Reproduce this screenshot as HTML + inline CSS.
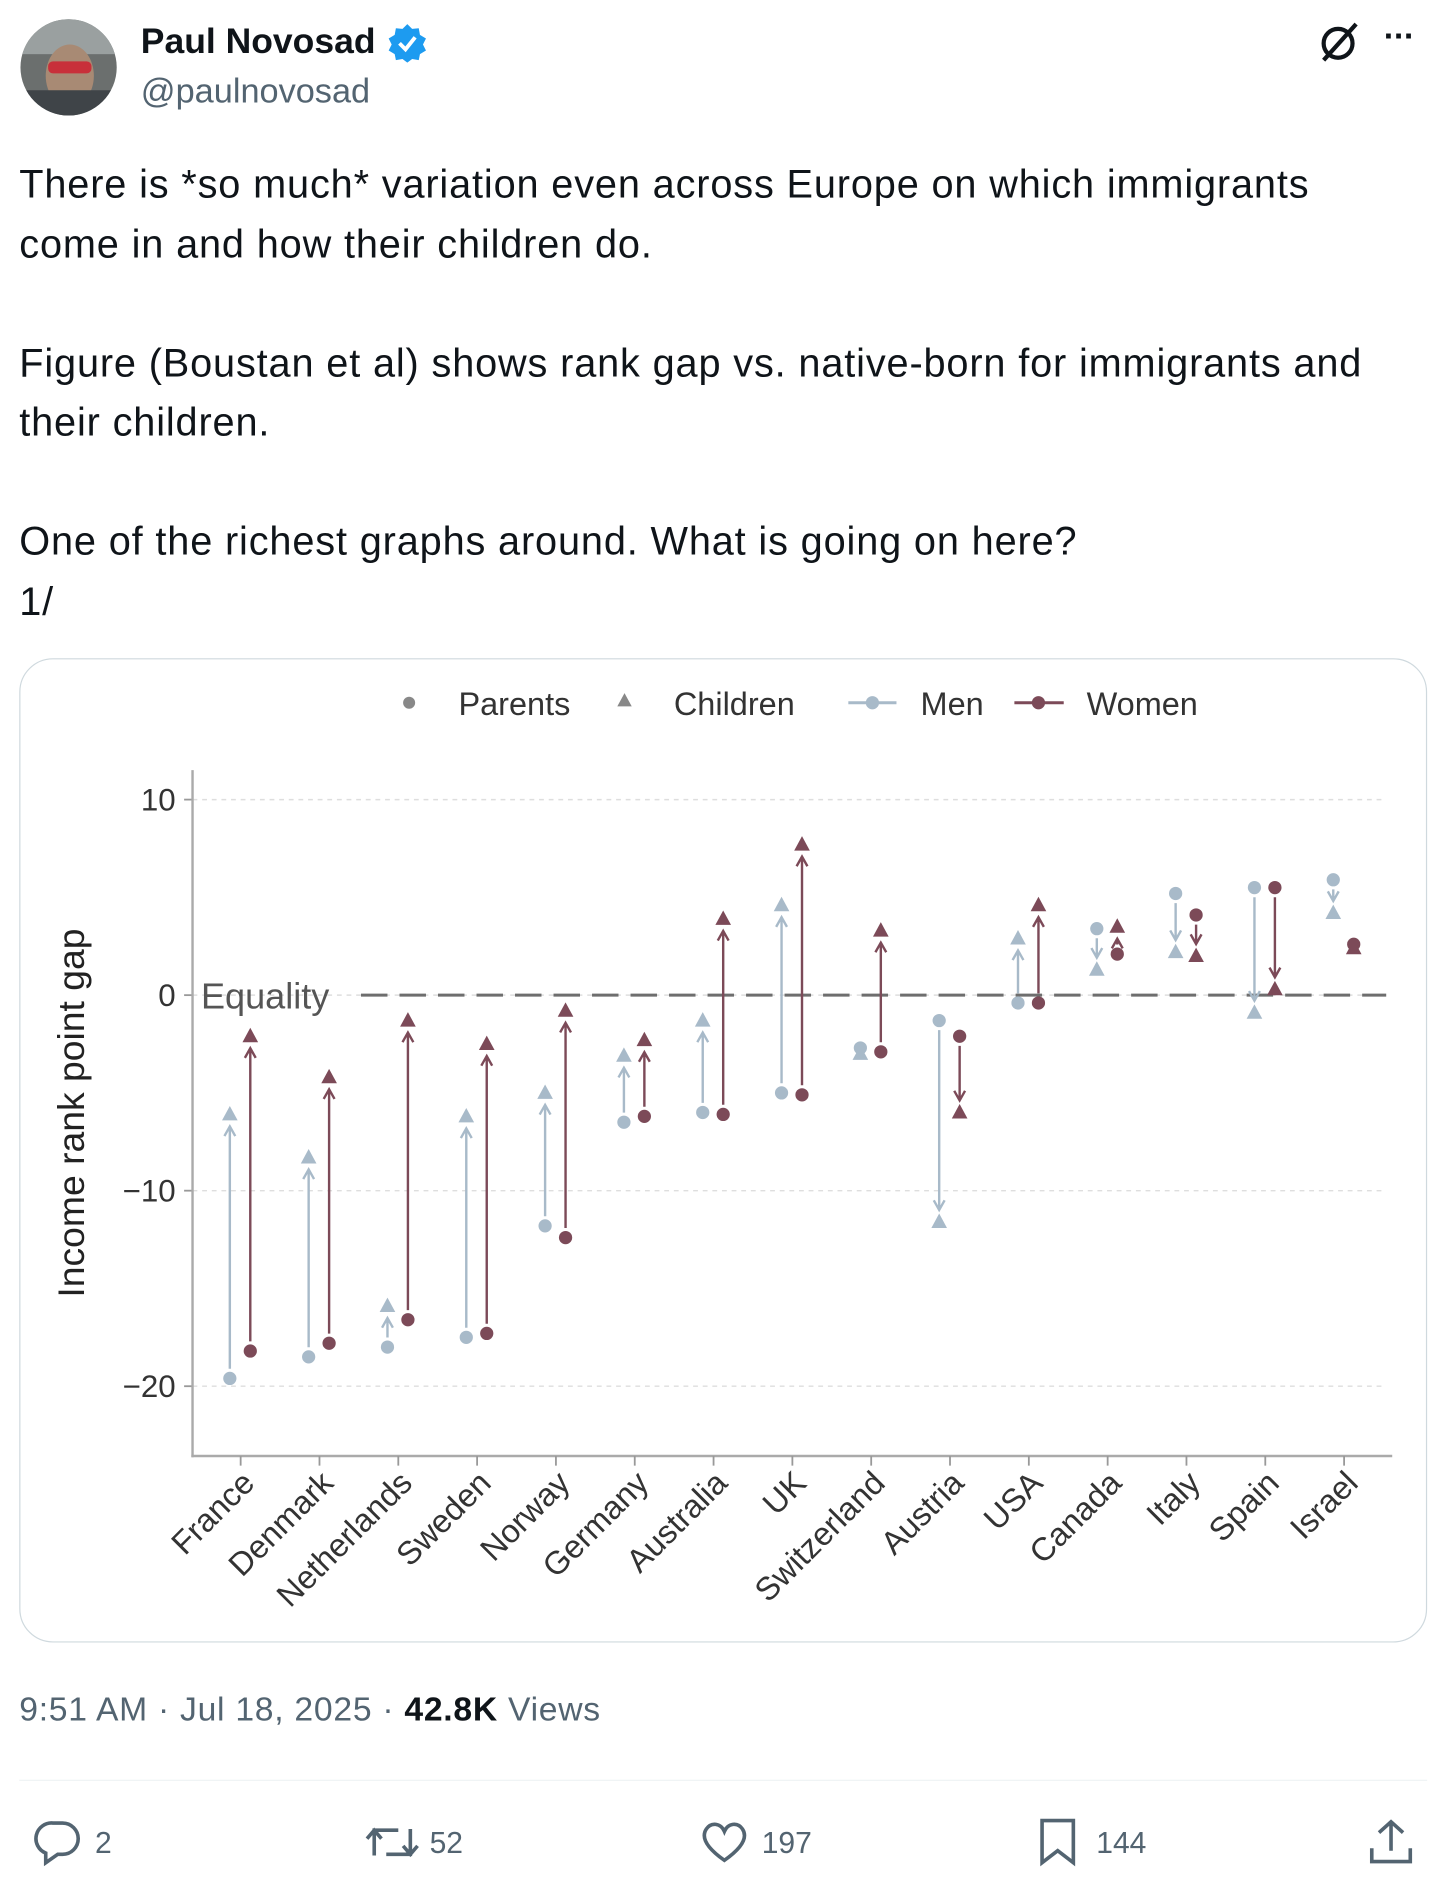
<!DOCTYPE html>
<html><head><meta charset="utf-8">
<style>
html,body{margin:0;padding:0;background:#fff;}
body{width:1456px;height:1880px;overflow:hidden;}
#wrap{position:absolute;left:0;top:0;width:1210px;height:1562px;transform:scale(1.20331);transform-origin:0 0;font-family:"Liberation Sans",sans-serif;color:#0f1419;}
.abs{position:absolute;}
.body-text{left:16px;top:128px;font-size:33px;line-height:49.5px;width:1190px;letter-spacing:0.7px;white-space:nowrap;}
.meta{left:16px;top:1405px;font-size:28px;color:#536471;letter-spacing:0.6px;}
.act{font-size:25px;color:#536471;}
</style></head><body>
<div id="wrap">
  <svg class="abs" style="left:16px;top:15px" width="82" height="82">
    <defs><clipPath id="cc"><circle cx="41" cy="41" r="40"/></clipPath></defs>
    <g clip-path="url(#cc)">
      <rect width="82" height="82" fill="#6b6f6e"/>
      <rect x="0" y="0" width="82" height="30" fill="#9aa0a0"/>
      <ellipse cx="42" cy="48" rx="20" ry="26" fill="#a88a74"/>
      <rect x="24" y="36" width="36" height="10" rx="4" fill="#c8303a"/>
      <rect x="0" y="60" width="82" height="22" fill="#3f4448"/>
    </g>
  </svg>
  <div class="abs" style="left:117px;top:18px;font-size:29.5px;font-weight:bold;">Paul Novosad</div>
  <svg class="abs" style="left:322px;top:19px" width="33" height="33">
    <path d="M16.5 1 L20.5 5 L26 4.5 L27 10 L32 13 L29.5 18 L32 23 L27 26 L26 31 L20.5 30 L16.5 33 L12.5 30 L7 31 L6 26 L1 23 L3.5 18 L1 13 L6 10 L7 4.5 L12.5 5 Z" fill="#1d9bf0"/>
    <path d="M10 17 L15 22 L23 12" stroke="#fff" stroke-width="3.2" fill="none"/>
  </svg>
  <div class="abs" style="left:117px;top:60px;font-size:28.5px;color:#536471;">@paulnovosad</div>
  <svg class="abs" style="left:1094px;top:16px" width="38" height="38">
    <circle cx="18" cy="20" r="12" fill="none" stroke="#0f1419" stroke-width="3.5"/>
    <line x1="6" y1="34" x2="33" y2="4" stroke="#0f1419" stroke-width="3.5"/>
  </svg>
  <div class="abs" style="left:1150px;top:14px;font-size:28px;font-weight:bold;letter-spacing:-1px">···</div>

  <div class="abs body-text">There is *so much* variation even across Europe on which immigrants<br>come in and how their children do.<br><br>Figure (Boustan et al) shows rank gap vs. native-born for immigrants and<br>their children.<br><br>One of the richest graphs around. What is going on here?<br>1/</div>

  <div class="abs" style="left:16px;top:547px;width:1168px;height:816px;border:1px solid #cfd9de;border-radius:28px;"></div>
  <svg id="chart" class="abs" style="left:0;top:0" width="1210" height="1562"></svg>

  <div class="abs meta">9:51 AM · Jul 18, 2025 · <b style="color:#0f1419">42.8K</b> Views</div>
  <div class="abs" style="left:16px;top:1479px;width:1170px;height:1px;background:#eff3f4"></div>

  <svg class="abs" style="left:28px;top:1511px" width="40" height="40"><path d="M16 4 H24 A13 13 0 0 1 24 30 H20 L10 37 V29 A13 13 0 0 1 16 4 Z" fill="none" stroke="#536471" stroke-width="3"/></svg>
  <div class="abs act" style="left:79px;top:1518px">2</div>
  <svg class="abs" style="left:303px;top:1512px" width="46" height="38"><path d="M8 30 V9 H28 M2 16 L8 9 L14 16 M38 8 V29 H18 M32 22 L38 29 L44 22" fill="none" stroke="#536471" stroke-width="3"/></svg>
  <div class="abs act" style="left:357px;top:1518px">52</div>
  <svg class="abs" style="left:581px;top:1512px" width="42" height="38"><path d="M21 34 C4 22 2 14 6 8 C10 2 18 3 21 10 C24 3 32 2 36 8 C40 14 38 22 21 34 Z" fill="none" stroke="#536471" stroke-width="3"/></svg>
  <div class="abs act" style="left:633px;top:1518px">197</div>
  <svg class="abs" style="left:861px;top:1510px" width="36" height="42"><path d="M5 3 H31 V38 L18 28 L5 38 Z" fill="none" stroke="#536471" stroke-width="3"/></svg>
  <div class="abs act" style="left:911px;top:1518px">144</div>
  <svg class="abs" style="left:1136px;top:1510px" width="40" height="42"><path d="M20 28 V4 M10 13 L20 4 L30 13 M4 26 V37 H36 V26" fill="none" stroke="#536471" stroke-width="3"/></svg>
</div>
<script>
const countries = ["France","Denmark","Netherlands","Sweden","Norway","Germany","Australia","UK","Switzerland","Austria","USA","Canada","Italy","Spain","Israel"];
const menParents = [-19.6,-18.5,-18.0,-17.5,-11.8,-6.5,-6.0,-5.0,-2.7,-1.3,-0.4,3.4,5.2,5.5,5.9];
const menChildren = [-6.1,-8.3,-15.9,-6.2,-5.0,-3.1,-1.3,4.6,-3.0,-11.6,2.9,1.3,2.2,-0.9,4.2];
const womenParents = [-18.2,-17.8,-16.6,-17.3,-12.4,-6.2,-6.1,-5.1,-2.9,-2.1,-0.4,2.1,4.1,5.5,2.6];
const womenChildren = [-2.1,-4.2,-1.3,-2.5,-0.8,-2.3,3.9,7.7,3.3,-6.0,4.6,3.5,2.0,0.3,2.4];
const yTicks = [10,0,-10,-20];
const yTickLabels = ["10","0","\u221210","\u221220"];

const NS="http://www.w3.org/2000/svg";
const svg=document.getElementById('chart');
const X0=200, DX=65.5, Y0=827, DY=16.25;
const xScale=i=>X0+i*DX;
const yScale=v=>Y0-v*DY;
const MEN="#a8bac9", WOMEN="#7c4a58";
function mk(tag,attrs,parent){const e=document.createElementNS(NS,tag);for(const k in attrs)e.setAttribute(k,attrs[k]);(parent||svg).appendChild(e);return e;}

yTicks.forEach((t,i)=>{
  const g=mk('line',{x1:160,x2:1152,y1:yScale(t),y2:yScale(t),stroke:"#dedede","stroke-width":1.2,"stroke-dasharray":"4 4"});
  
  
  const tk=mk('line',{x1:153,x2:160,y1:yScale(t),y2:yScale(t),stroke:"#999","stroke-width":1.5});
  
  
  const lb=mk('text',{x:146,y:yScale(t)+9,"text-anchor":"end","font-size":26,fill:"#333","font-family":"Liberation Sans, sans-serif"});
  lb.textContent=yTickLabels[i];
  
  
});
const ya=mk('line',{x1:160,x2:160,y1:640,y2:1211,stroke:"#aaa","stroke-width":2});


const xa=mk('line',{x1:159,x2:1157,y1:1210,y2:1210,stroke:"#aaa","stroke-width":2});


const eq=mk('line',{x1:300,x2:1152,y1:yScale(0),y2:yScale(0),stroke:"#6e6e6e","stroke-width":2.5,"stroke-dasharray":"22 10"});


const eqt=mk('text',{x:167,y:yScale(0)+11,"font-size":30,fill:"#555","font-family":"Liberation Sans, sans-serif"});
eqt.textContent="Equality";


const yt=mk('text',{x:0,y:0,"font-size":31,fill:"#222","text-anchor":"middle","font-family":"Liberation Sans, sans-serif",transform:"translate(70,925) rotate(-90)"});
yt.textContent="Income rank point gap";



function tri(cx,cy,color,name){
  const t=mk('polygon',{points:`${cx},${cy-7} ${cx-6.5},${cy+5} ${cx+6.5},${cy+5}`,fill:color});
  
  
}
function dot(cx,cy,color,name){
  const c=mk('circle',{cx:cx,cy:cy,r:5.5,fill:color});
  
  
}
function arrow(x,p,c,color,name){
  const py=yScale(p), cy=yScale(c);
  const dir=cy<py?-1:1;
  let y1=py+dir*8, y2=cy-dir*10;
  if((y2-y1)*dir<4){y1=(py+cy)/2-dir*3;y2=(py+cy)/2+dir*4;}
  const l=mk('path',{d:`M${x},${y1} L${x},${y2} M${x-4.5},${y2-dir*8} L${x},${y2} L${x+4.5},${y2-dir*8}`,stroke:color,"stroke-width":2,fill:"none"});
  
  
}
countries.forEach((c,i)=>{
  const x=xScale(i), xm=x-9, xw=x+8;
  arrow(xm,menParents[i],menChildren[i],MEN,'men-arrow');
  arrow(xw,womenParents[i],womenChildren[i],WOMEN,'women-arrow');
  dot(xm,yScale(menParents[i]),MEN,'men-parents-point');
  tri(xm,yScale(menChildren[i]),MEN,'men-children-point');
  dot(xw,yScale(womenParents[i]),WOMEN,'women-parents-point');
  tri(xw,yScale(womenChildren[i]),WOMEN,'women-children-point');
  const tk=mk('line',{x1:x,x2:x,y1:1210,y2:1218,stroke:"#999","stroke-width":1.5});
  
  
  const lb=mk('text',{x:0,y:0,"text-anchor":"end","font-size":27,fill:"#333","font-family":"Liberation Sans, sans-serif",transform:`translate(${x+13},${1234}) rotate(-45)`});
  lb.textContent=c;
  
  
});
const lg=mk('g',{});


function ltext(x,s){const t=mk('text',{x:x,y:594,"font-size":27,fill:"#333","font-family":"Liberation Sans, sans-serif"},lg);t.textContent=s;}
mk('circle',{cx:340,cy:584,r:5,fill:"#888"},lg);
ltext(381,"Parents");
mk('polygon',{points:"519,576 513,587 525,587",fill:"#888"},lg);
ltext(560,"Children");
mk('line',{x1:705,x2:745,y1:584,y2:584,stroke:MEN,"stroke-width":2.5},lg);
mk('circle',{cx:725,cy:584,r:5.5,fill:MEN},lg);
ltext(765,"Men");
mk('line',{x1:843,x2:884,y1:584,y2:584,stroke:WOMEN,"stroke-width":2.5},lg);
mk('circle',{cx:863,cy:584,r:5.5,fill:WOMEN},lg);
ltext(903,"Women");
</script>
</body></html>
